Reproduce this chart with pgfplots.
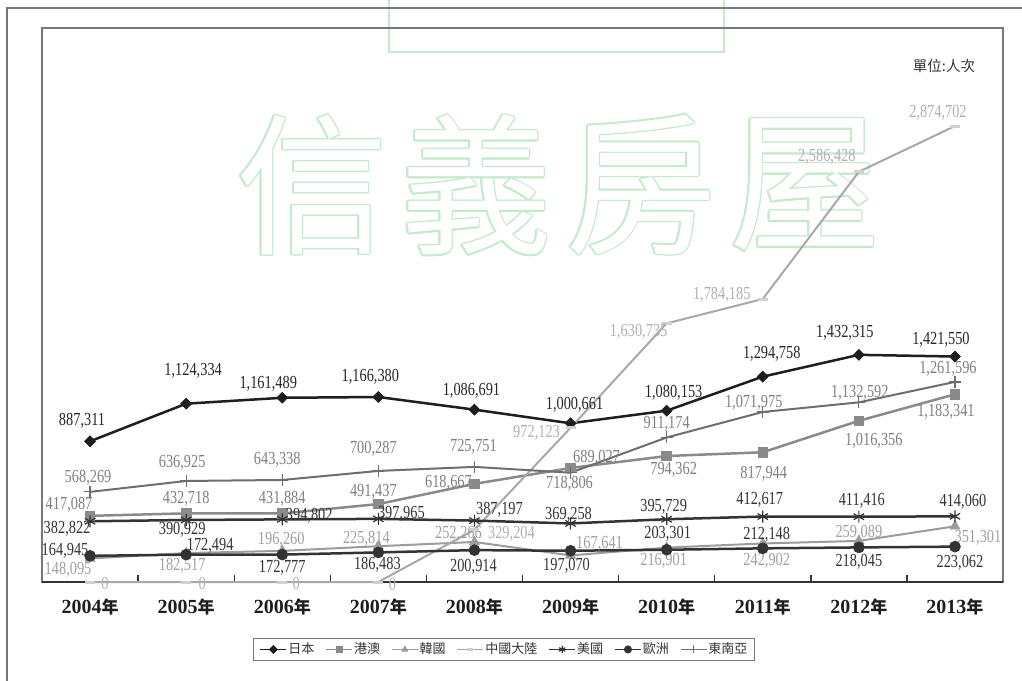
\documentclass[border=0pt]{standalone}
\usepackage{fontspec}
\setmainfont{Liberation Serif}
\newfontfamily\lab{Liberation Serif}[FakeStretch=0.78]
\newfontfamily\cjk{Noto Sans CJK TC}
\usepackage{pgfplots}
\usepackage{pgfplotstable}
\pgfplotsset{compat=1.18}

\definecolor{cjp}{HTML}{1E1E1E}
\definecolor{chk}{HTML}{8A8A8A}
\definecolor{ckr}{HTML}{9C9C9C}
\definecolor{ccn}{HTML}{A8A8A8}
\definecolor{ccnm}{HTML}{D0D0D0}
\definecolor{cus}{HTML}{333333}
\definecolor{ceu}{HTML}{333333}
\definecolor{csea}{HTML}{6E6E6E}
\definecolor{ljp}{HTML}{262626}
\definecolor{lhk}{HTML}{7F7F7F}
\definecolor{lkr}{HTML}{A0A0A0}
\definecolor{lcn}{HTML}{B0B0B0}
\definecolor{lsea}{HTML}{808080}
\definecolor{cwm}{RGB}{196,234,204}
\definecolor{cfrm}{HTML}{777777}

% x = year index (0 = 2004); l = label dx/dy (px) / label text
\pgfplotstableread{
x y l
0 887311 -8/22/887,311
1 1124334 7/34/1,124,334
2 1161489 -14/15/1,161,489
3 1166380 -8/22/1,166,380
4 1086691 -3/20/1,086,691
5 1000661 4/20/1,000,661
6 1080153 7/19/1,080,153
7 1294758 9/24/1,294,758
8 1432315 -14/23/1,432,315
9 1421550 -14/18/1,421,550
}\tjp
\pgfplotstableread{
x y l
0 417087 -21/12/417,087
1 432718 0/16/432,718
2 431884 0/16/431,884
3 491437 -5/14/491,437
4 618667 -26/2/618,667
5 718806 -1/-15/718,806
6 794362 7/-12/794,362
7 817944 1/-20/817,944
8 1016356 15/-19/1,016,356
9 1183341 -9/-16/1,183,341
}\thk
\pgfplotstableread{
x y l
0 148095 -22/-10/148,095
1 182517 -4/-11/182,517
2 196260 -1/12/196,260
3 225814 -12/9/225,814
4 252266 -16/9/252,266
5 167641 29/13/167,641
6 216901 -3/-12/216,901
7 242902 4/-16/242,902
8 259089 0/9/259,089
9 351301 23/-10/351,301
}\tkr
\pgfplotstableread{
x y l
0 0 15/-1/0
1 0 16/-1/0
2 0 14/-1/0
3 0 14/-2/0
4 329204 37/-3/329,204
5 972123 -34/-4/972,123
6 1630735 -28/-7/1,630,735
7 1784185 -41/6/1,784,185
8 2586428 -32/16/2,586,428
9 2874702 -17/15/2,874,702
}\tcn
\pgfplotstableread{
x y l
0 382822 -23/-6/382,822
1 390929 -4/-9/390,929
2 394802 27/5/394,802
3 397965 23/6/397,965
4 387197 25/12/387,197
5 369258 -2/10/369,258
6 395729 -3/14/395,729
7 412617 -3/18/412,617
8 411416 3/17/411,416
9 414060 8/16/414,060
}\tus
\pgfplotstableread{
x y l
0 164945 -25/6/164,945
1 172494 24/10/172,494
2 172777 0/-12/172,777
3 186483 -1/-11/186,483
4 200914 -1/-15/200,914
5 197070 -4/-14/197,070
6 203301 1/17/203,301
7 212148 4/15/212,148
8 218045 0/-13/218,045
9 223062 5/-15/223,062
}\teu
\pgfplotstableread{
x y l
0 568269 -2/15/568,269
1 636925 -4/19/636,925
2 643338 -5/21/643,338
3 700287 -5/23/700,287
4 725751 -1/21/725,751
5 689027 26/16/689,027
6 911174 0/15/911,174
7 1071975 -9/10/1,071,975
8 1132592 1/11/1,132,592
9 1261596 -7/14/1,261,596
}\tsea

% label placed at an offset of (dx,dy) px from its point (1 px = 0.5pt)
\def\splitlab#1/#2/#3\relax{%
  \raisebox{\dimexpr0.5pt*#2-3pt\relax}[0pt][0pt]{\makebox[0pt][c]{%
    \kern\dimexpr0.5pt*#1\relax #3\kern-\dimexpr0.5pt*#1\relax}}}

\pgfplotsset{
  lbl/.style={
    nodes near coords={\expandafter\splitlab\pgfplotspointmeta\relax},
    point meta=explicit symbolic,
    every node near coord/.append style={anchor=center, inner sep=0pt,
      font=\lab\fontsize{9.2}{10}\selectfont, text=#1}},
  sjp/.style={color=cjp, line width=1.25pt, mark=square*, mark size=1.9pt,
    mark options={solid, fill=cjp, rotate=45, line width=0.4pt}},
  shk/.style={color=chk, line width=1.25pt, mark=square*, mark size=2.4pt,
    mark options={solid, fill=chk, line width=0.4pt}},
  skr/.style={color=ckr, line width=1pt, mark=triangle*, mark size=2.8pt,
    mark options={solid, fill=ckr, line width=0.4pt}},
  scn/.style={color=ccn, line width=1pt, mark=-, mark size=2.5pt,
    mark options={solid, draw=ccnm, line width=1.5pt}},
  sus/.style={color=cus, line width=1.25pt, mark=asterisk, mark size=3pt,
    mark options={solid, line width=0.6pt}},
  seu/.style={color=ceu, line width=1.25pt, mark=*, mark size=2.7pt,
    mark options={solid, fill=ceu, line width=0.4pt}},
  ssea/.style={color=csea, line width=1pt, mark=+, mark size=3pt,
    mark options={solid, line width=0.6pt}},
}

\newcommand\yr[1]{{\fontsize{10}{10}\selectfont\bfseries #1}{\cjk\bfseries\fontsize{8.5}{8.5}\selectfont 年}}
\newcommand\wmf{\cjk\fontsize{76}{76}\selectfont}
\newcommand\wmch[3]{%
  \foreach \a in {0,30,...,330}{\node[inner sep=0pt,text=cwm] at ([shift={(\a:0.7pt)}]#1,#2) {\wmf #3};}
  \node[inner sep=0pt,text=white] at (#1,#2) {\wmf #3};}

\begin{document}
\begin{tikzpicture}
\useasboundingbox (0,0) rectangle (511pt,340pt);
\fill[white] (0,0) rectangle (511pt,340pt);

% watermark
\draw[cwm, line width=0.75pt] (194.5pt,345pt) -- (194.5pt,314pt) -- (362pt,314pt) -- (362pt,345pt);
\wmch{156pt}{247.5pt}{信}
\wmch{238pt}{247.5pt}{義}
\wmch{320.5pt}{247.5pt}{房}
\wmch{402.5pt}{247.5pt}{屋}

% outer frame
\draw[cfrm, line width=0.75pt] (3.5pt,-5pt) -- (3.5pt,336pt) -- (520pt,336pt);

\begin{axis}[
  at={(21pt,49pt)}, anchor=south west,
  width=480.5pt, height=277pt, scale only axis,
  xmin=-0.5, xmax=9.5, ymin=0, ymax=3493000,
  clip=false,
  axis line style={draw=cfrm, line width=0.75pt},
  ytick=\empty,
  xtick={0,...,9},
  xticklabels={\yr{2004},\yr{2005},\yr{2006},\yr{2007},\yr{2008},\yr{2009},\yr{2010},\yr{2011},\yr{2012},\yr{2013}},
  major tick length=0pt,
  minor xtick={-0.5,0.5,...,9.5},
  minor tick length=3.5pt,
  tick align=inside,
  xtick pos=left,
  minor tick style={draw=cus, line width=0.7pt},
  xticklabel style={anchor=center, yshift=-12.5pt, text=cjp},
  legend columns=7,
  legend cell align=left,
  legend image code/.code={\draw[mark repeat=2,mark phase=2,#1] plot coordinates {(0pt,0pt) (6.5pt,0pt) (13pt,0pt)};},
  legend style={at={(0.4807,-0.1218)}, anchor=center, draw=cfrm, line width=0.5pt,
    font=\cjk\fontsize{6.5}{7.5}\selectfont, text=cus,
    inner xsep=3pt, inner ysep=1pt,
    nodes={inner xsep=0.5pt, inner ysep=1.2pt},
    /tikz/every even column/.append style={column sep=5pt}},
]
\draw[cus, line width=1pt] (rel axis cs:0,0) -- (rel axis cs:1,0);

\addplot[sjp, lbl=ljp, forget plot] table[x=x,y=y,meta=l]{\tjp};
\addplot[shk, lbl=lhk, forget plot] table[x=x,y=y,meta=l]{\thk};
\addplot[skr, lbl=lkr, forget plot] table[x=x,y=y,meta=l]{\tkr};
\addplot[scn, lbl=lcn, forget plot] table[x=x,y=y,meta=l]{\tcn};
\addplot[sus, lbl=cus, forget plot] table[x=x,y=y,meta=l]{\tus};
\addplot[seu, lbl=ceu, forget plot] table[x=x,y=y,meta=l]{\teu};
\addplot[ssea, lbl=lsea, forget plot] table[x=x,y=y,meta=l]{\tsea};

\addlegendimage{sjp, mark size=1.4pt, line width=0.9pt}\addlegendentry{日本}
\addlegendimage{shk, mark size=1.5pt, line width=0.9pt}\addlegendentry{港澳}
\addlegendimage{skr, mark size=1.7pt, line width=0.8pt}\addlegendentry{韓國}
\addlegendimage{scn, mark size=1.5pt, line width=0.8pt}\addlegendentry{中國大陸}
\addlegendimage{sus, mark size=1.8pt, line width=0.9pt}\addlegendentry{美國}
\addlegendimage{seu, mark size=1.8pt, line width=0.9pt}\addlegendentry{歐洲}
\addlegendimage{ssea, mark size=2pt, line width=0.8pt}\addlegendentry{東南亞}
\end{axis}

\node[text=cus, inner sep=0pt] at (472pt,307pt) {\cjk\fontsize{7.25}{8}\selectfont 單位:人次};
\end{tikzpicture}
\end{document}
